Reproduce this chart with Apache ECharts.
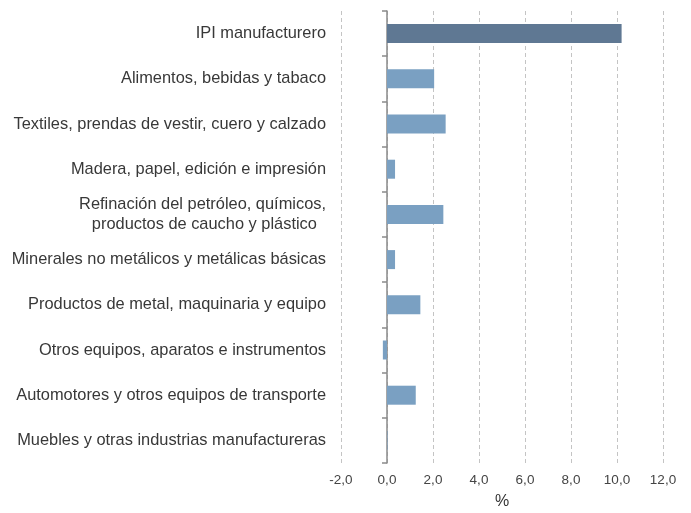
<!DOCTYPE html>
<html>
<head>
    <meta charset="utf-8">
    <title>IPI manufacturero</title>
    <script src="https://cdn.jsdelivr.net/npm/echarts@6/dist/echarts.min.js"></script>
    <style>
        html, body { margin: 0; padding: 0; background: #fff; }
        #chart { width: 691px; height: 513px; }
    </style>
</head>
<body>
    <div id="chart"></div>
    <script>
        // categorias (de arriba hacia abajo)
        var categories = [
            'IPI manufacturero',
            'Alimentos, bebidas y tabaco',
            'Textiles, prendas de vestir, cuero y calzado',
            'Madera, papel, edición e impresión',
            'Refinación del petróleo, químicos,\nproductos de caucho y plástico  ',
            'Minerales no metálicos y metálicas básicas',
            'Productos de metal, maquinaria y equipo',
            'Otros equipos, aparatos e instrumentos',
            'Automotores y otros equipos de transporte',
            'Muebles y otras industrias manufactureras'
        ];
        var values = [10.2, 2.05, 2.55, 0.35, 2.45, 0.35, 1.45, -0.18, 1.25, 0.02];
        var xTicks = [-2, 0, 2, 4, 6, 8, 10, 12];

        var font = '"Liberation Sans", Arial, sans-serif';

        var myChart = echarts.init(document.getElementById('chart'));
        var option = {
            animation: false,
            grid: { left: 341, right: 28, top: 11, bottom: 50, outerBoundsMode: 'none' },
            xAxis: {
                type: 'value',
                min: xTicks[0],
                max: xTicks[xTicks.length - 1],
                interval: 2,
                name: '%',
                nameLocation: 'middle',
                nameGap: 31,
                nameTextStyle: { fontFamily: font, fontSize: 16, color: '#333' },
                axisLine: { show: false },
                axisTick: { show: false },
                axisLabel: {
                    fontFamily: font, fontSize: 13.5, color: '#444', margin: 10,
                    formatter: function (v) { return v.toFixed(1).replace('.', ','); }
                },
                splitLine: { lineStyle: { color: '#c4c4c4', type: [4, 3], width: 1 } }
            },
            yAxis: [{
                type: 'category',
                inverse: true,
                data: categories,
                axisLine: { show: false, onZero: false },
                axisTick: { show: false },
                axisLabel: {
                    fontFamily: font, fontSize: 16.4, color: '#383838', margin: 15, lineHeight: 20,
                    padding: [3, 0, 0, 0]
                }
            }, {
                type: 'category',
                inverse: true,
                position: 'left',
                data: categories,
                axisLine: { show: true, onZero: true, lineStyle: { color: '#8a8a8a', width: 1.5 } },
                axisTick: { show: true, length: 5, lineStyle: { color: '#8a8a8a', width: 1.5 } },
                axisLabel: { show: false }
            }],
            series: [{
                type: 'bar',
                yAxisIndex: 0,
                barWidth: 19,
                data: values.map(function (v, i) {
                    return {
                        value: v,
                        itemStyle: { color: i === 0 ? '#5f7893' : '#7aa0c2' }
                    };
                })
            }]
        };
        myChart.setOption(option);
    </script>
</body>
</html>
